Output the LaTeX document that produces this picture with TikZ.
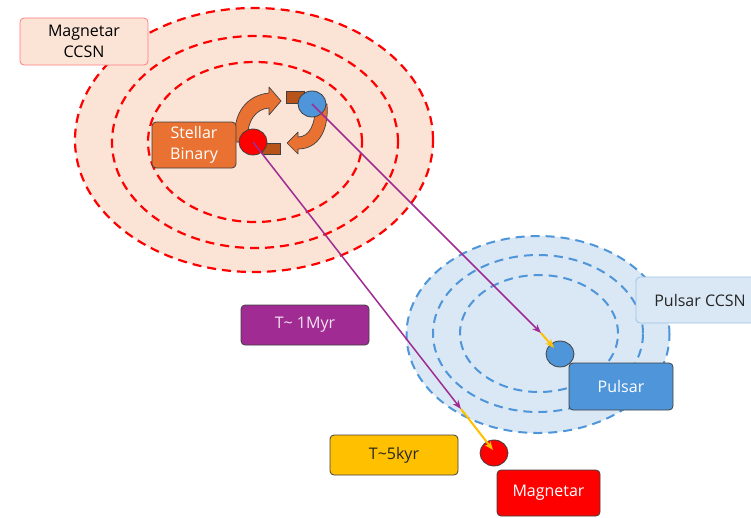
\documentclass[tikz,border=0pt]{standalone}
\usepackage{fontspec}
\setmainfont{Open Sans}
\usetikzlibrary{arrows.meta}
\definecolor{peach}{HTML}{FBE3D6}
\definecolor{ccsnred}{HTML}{FF7C80}
\definecolor{lblue}{HTML}{DAE8F5}
\definecolor{bblue}{HTML}{9DC3E6}
\definecolor{dblue}{HTML}{4E95D9}
\definecolor{orng}{HTML}{E97132}
\definecolor{brwn}{HTML}{B85419}
\definecolor{purp}{HTML}{A02B93}
\definecolor{yell}{HTML}{FFC000}
\definecolor{edge}{HTML}{404040}
\tikzset{
  box/.style={rounded corners=4pt, draw=edge, line width=0.8pt, align=center,
    font=\fontsize{16}{21}\selectfont, inner sep=0pt},
  star/.style={ellipse, draw=edge, line width=0.8pt, minimum width=28pt, minimum height=26pt, inner sep=0pt},
  reddash/.style={draw=red, dash pattern=on 9pt off 6pt, line width=2.2pt},
  bluedash/.style={draw=dblue, dash pattern=on 9pt off 6pt, line width=2pt},
  purparrow/.style={draw=purp, line width=1.5pt, -{Stealth[length=9pt,width=7pt]}},
  yellarrow/.style={draw=yell, line width=2pt, -{Stealth[length=9pt,width=7pt]}},
  curvarrow/.style={fill=orng, draw=edge, line width=0.7pt, line join=round},
  tab/.style={fill=brwn, draw=edge, line width=0.6pt}
}
\usetikzlibrary{shapes.geometric}
\begin{document}
\begin{tikzpicture}[x=1pt,y=-1pt]
\useasboundingbox (0,0) rectangle (751,517);
% Magnetar CCSN shells
\fill[peach] (254,140) ellipse [x radius=179pt, y radius=132pt];
\draw[reddash] (254,140) ellipse [x radius=179pt, y radius=132pt];
\draw[reddash] (255,142) ellipse [x radius=143pt, y radius=106pt];
\draw[reddash] (255,142) ellipse [x radius=107pt, y radius=80pt];
% Pulsar CCSN shells
\fill[lblue] (538,334.5) ellipse [x radius=131.5pt, y radius=98.5pt];
\draw[bluedash] (538,334.5) ellipse [x radius=131.5pt, y radius=98.5pt];
\draw[bluedash] (538,333.5) ellipse [x radius=105pt, y radius=78.5pt];
\draw[bluedash] (539,333.5) ellipse [x radius=79pt, y radius=58.5pt];
% binary orbit arrows
\draw[tab] (286,91) rectangle (304,103);
\draw[tab] (262,143) rectangle (280,154);
\draw[curvarrow] (235,142) .. controls (232,112) and (248,95) .. (269,93)
  -- (269,87) -- (281,101) -- (269,115) -- (269,108)
  .. controls (256,109) and (247,120) .. (247,142) -- cycle;
\draw[curvarrow] (327,104) .. controls (329,131) and (318,149) .. (298,149)
  -- (298,154) -- (287,143) -- (298,132) -- (298,137)
  .. controls (309,137) and (316,125) .. (315,104) -- cycle;
% stars
\node[star, fill=red] (redstar) at (253,142) {};
\node[star, fill=dblue] (bluestar) at (312,104) {};
\node[star, fill=dblue] (pulstar) at (560,354) {};
\node[star, fill=red] (magstar) at (494,453) {};
% labels
\node[box, fill=peach, draw=ccsnred, minimum width=128pt, minimum height=47pt] (mccsn) at (84,41.5) {Magnetar\\CCSN};
\node[box, fill=orng, text=white, minimum width=84pt, minimum height=46pt] (binary) at (194,145) {Stellar\\Binary};
\node[box, fill=purp, text=white!88!purp, minimum width=128pt, minimum height=40pt] (tmyr) at (305,325) {T\textasciitilde{} 1Myr};
\node[box, fill=yell, text=black!85, minimum width=128pt, minimum height=40pt] (tkyr) at (394,455) {T\textasciitilde5kyr};
\node[box, fill=lblue, draw=bblue, text=black!85, minimum width=128pt, minimum height=46pt] (pccsn) at (700,300) {Pulsar CCSN};
\node[box, fill=dblue, text=white, minimum width=104pt, minimum height=47pt] (pulsar) at (621,386.5) {Pulsar};
\node[box, fill=red, text=white, minimum width=103pt, minimum height=46pt] (magnetar) at (548.5,493) {Magnetar};
% trajectories
\coordinate (m1) at (461,409);
\coordinate (m2) at (493,450);
\coordinate (p1) at (541,333);
\coordinate (p2) at (554,348);
\draw[purparrow] (redstar.center) -- (m1);
\draw[yellarrow] (m1) -- (m2);
\draw[purparrow] (bluestar.center) -- (p1);
\draw[yellarrow] (p1) -- (p2);
\end{tikzpicture}
\end{document}
